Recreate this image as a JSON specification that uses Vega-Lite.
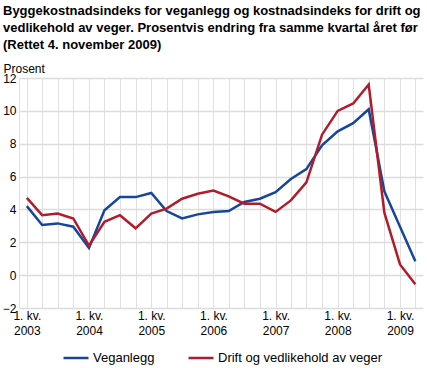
{
  "$schema": "https://vega.github.io/schema/vega-lite/v6.json",
  "width": 404,
  "height": 230,
  "autosize": {"type": "none"},
  "padding": {"left": 19, "top": 78, "right": 4, "bottom": 60},
  "background": "white",
  "title": {
    "text": ["Byggekostnadsindeks for veganlegg og kostnadsindeks for drift og", "vedlikehold av veger. Prosentvis endring fra samme kvartal året før", "(Rettet 4. november 2009)"],
    "anchor": "start",
    "frame": "group",
    "dx": -16,
    "offset": 10,
    "font": "Liberation Sans",
    "fontSize": 13,
    "fontWeight": "bold",
    "lineHeight": 17,
    "color": "#000000"
  },
  "config": {
    "view": {"stroke": null},
    "font": "Liberation Sans"
  },
  "data": {
    "values": [
      {"kvartal": "2003-01-01", "serie": "Veganlegg", "prosent": 4.2},
      {"kvartal": "2003-04-01", "serie": "Veganlegg", "prosent": 3.05},
      {"kvartal": "2003-07-01", "serie": "Veganlegg", "prosent": 3.15},
      {"kvartal": "2003-10-01", "serie": "Veganlegg", "prosent": 2.95},
      {"kvartal": "2004-01-01", "serie": "Veganlegg", "prosent": 1.65},
      {"kvartal": "2004-04-01", "serie": "Veganlegg", "prosent": 3.95},
      {"kvartal": "2004-07-01", "serie": "Veganlegg", "prosent": 4.75},
      {"kvartal": "2004-10-01", "serie": "Veganlegg", "prosent": 4.75},
      {"kvartal": "2005-01-01", "serie": "Veganlegg", "prosent": 5.0},
      {"kvartal": "2005-04-01", "serie": "Veganlegg", "prosent": 3.9},
      {"kvartal": "2005-07-01", "serie": "Veganlegg", "prosent": 3.45},
      {"kvartal": "2005-10-01", "serie": "Veganlegg", "prosent": 3.7},
      {"kvartal": "2006-01-01", "serie": "Veganlegg", "prosent": 3.85},
      {"kvartal": "2006-04-01", "serie": "Veganlegg", "prosent": 3.9},
      {"kvartal": "2006-07-01", "serie": "Veganlegg", "prosent": 4.45},
      {"kvartal": "2006-10-01", "serie": "Veganlegg", "prosent": 4.65},
      {"kvartal": "2007-01-01", "serie": "Veganlegg", "prosent": 5.05},
      {"kvartal": "2007-04-01", "serie": "Veganlegg", "prosent": 5.85},
      {"kvartal": "2007-07-01", "serie": "Veganlegg", "prosent": 6.45},
      {"kvartal": "2007-10-01", "serie": "Veganlegg", "prosent": 7.9},
      {"kvartal": "2008-01-01", "serie": "Veganlegg", "prosent": 8.75},
      {"kvartal": "2008-04-01", "serie": "Veganlegg", "prosent": 9.25},
      {"kvartal": "2008-07-01", "serie": "Veganlegg", "prosent": 10.1},
      {"kvartal": "2008-10-01", "serie": "Veganlegg", "prosent": 5.1},
      {"kvartal": "2009-01-01", "serie": "Veganlegg", "prosent": 2.95},
      {"kvartal": "2009-04-01", "serie": "Veganlegg", "prosent": 0.85},
      {"kvartal": "2003-01-01", "serie": "Drift og vedlikehold av veger", "prosent": 4.7},
      {"kvartal": "2003-04-01", "serie": "Drift og vedlikehold av veger", "prosent": 3.65},
      {"kvartal": "2003-07-01", "serie": "Drift og vedlikehold av veger", "prosent": 3.75},
      {"kvartal": "2003-10-01", "serie": "Drift og vedlikehold av veger", "prosent": 3.45},
      {"kvartal": "2004-01-01", "serie": "Drift og vedlikehold av veger", "prosent": 1.8},
      {"kvartal": "2004-04-01", "serie": "Drift og vedlikehold av veger", "prosent": 3.25},
      {"kvartal": "2004-07-01", "serie": "Drift og vedlikehold av veger", "prosent": 3.65},
      {"kvartal": "2004-10-01", "serie": "Drift og vedlikehold av veger", "prosent": 2.85},
      {"kvartal": "2005-01-01", "serie": "Drift og vedlikehold av veger", "prosent": 3.75},
      {"kvartal": "2005-04-01", "serie": "Drift og vedlikehold av veger", "prosent": 4.05},
      {"kvartal": "2005-07-01", "serie": "Drift og vedlikehold av veger", "prosent": 4.65},
      {"kvartal": "2005-10-01", "serie": "Drift og vedlikehold av veger", "prosent": 4.95},
      {"kvartal": "2006-01-01", "serie": "Drift og vedlikehold av veger", "prosent": 5.15},
      {"kvartal": "2006-04-01", "serie": "Drift og vedlikehold av veger", "prosent": 4.8},
      {"kvartal": "2006-07-01", "serie": "Drift og vedlikehold av veger", "prosent": 4.35},
      {"kvartal": "2006-10-01", "serie": "Drift og vedlikehold av veger", "prosent": 4.35},
      {"kvartal": "2007-01-01", "serie": "Drift og vedlikehold av veger", "prosent": 3.85},
      {"kvartal": "2007-04-01", "serie": "Drift og vedlikehold av veger", "prosent": 4.55},
      {"kvartal": "2007-07-01", "serie": "Drift og vedlikehold av veger", "prosent": 5.65},
      {"kvartal": "2007-10-01", "serie": "Drift og vedlikehold av veger", "prosent": 8.55},
      {"kvartal": "2008-01-01", "serie": "Drift og vedlikehold av veger", "prosent": 10.0},
      {"kvartal": "2008-04-01", "serie": "Drift og vedlikehold av veger", "prosent": 10.45},
      {"kvartal": "2008-07-01", "serie": "Drift og vedlikehold av veger", "prosent": 11.6},
      {"kvartal": "2008-10-01", "serie": "Drift og vedlikehold av veger", "prosent": 3.8},
      {"kvartal": "2009-01-01", "serie": "Drift og vedlikehold av veger", "prosent": 0.65},
      {"kvartal": "2009-04-01", "serie": "Drift og vedlikehold av veger", "prosent": -0.55}
    ]
  },
  "mark": {"type": "line", "strokeWidth": 2.5},
  "encoding": {
    "x": {
      "field": "kvartal",
      "type": "temporal",
      "scale": {
        "type": "utc",
        "domain": [
          {"year": 2002, "month": 11, "date": 16, "utc": true},
          {"year": 2009, "month": 5, "date": 16, "utc": true}
        ]
      },
      "axis": {
        "title": null,
        "tickCount": {"interval": "month", "step": 3},
        "labelExpr": "utcmonth(datum.value) == 0 ? ['1. kv.', utcFormat(datum.value, '%Y')] : ''",
        "labelOverlap": false,
        "labelFontSize": 12,
        "labelLineHeight": 15,
        "labelColor": "#000000",
        "labelPadding": 2,
        "labelFlush": false,
        "ticks": false,
        "domain": false,
        "grid": true,
        "gridColor": "#e0e0e0",
        "gridWidth": 1
      }
    },
    "y": {
      "field": "prosent",
      "type": "quantitative",
      "scale": {"domain": [-2, 12], "nice": false, "zero": false},
      "axis": {
        "values": [-2, 0, 2, 4, 6, 8, 10, 12],
        "title": "Prosent",
        "titleAngle": 0,
        "titleAlign": "left",
        "titleBaseline": "middle",
        "titleX": -16,
        "titleY": -10,
        "titleFontSize": 12,
        "titleFontWeight": "normal",
        "titleColor": "#000000",
        "labelFontSize": 12,
        "labelColor": "#000000",
        "labelPadding": 3,
        "ticks": false,
        "domain": true,
        "domainColor": "#e0e0e0",
        "grid": true,
        "gridColor": "#dcdcdc",
        "gridWidth": 1.5
      }
    },
    "color": {
      "field": "serie",
      "type": "nominal",
      "sort": ["Veganlegg", "Drift og vedlikehold av veger"],
      "scale": {"domain": ["Veganlegg", "Drift og vedlikehold av veger"], "range": ["#16469b", "#b01c2c"]},
      "legend": {
        "title": null,
        "orient": "none",
        "legendX": 43,
        "legendY": 266,
        "direction": "horizontal",
        "symbolType": "stroke",
        "symbolSize": 625,
        "symbolStrokeWidth": 2.5,
        "labelFontSize": 13,
        "labelLimit": 300,
        "labelColor": "#000000",
        "columnPadding": 28,
        "labelOffset": 3
      }
    }
  }
}
